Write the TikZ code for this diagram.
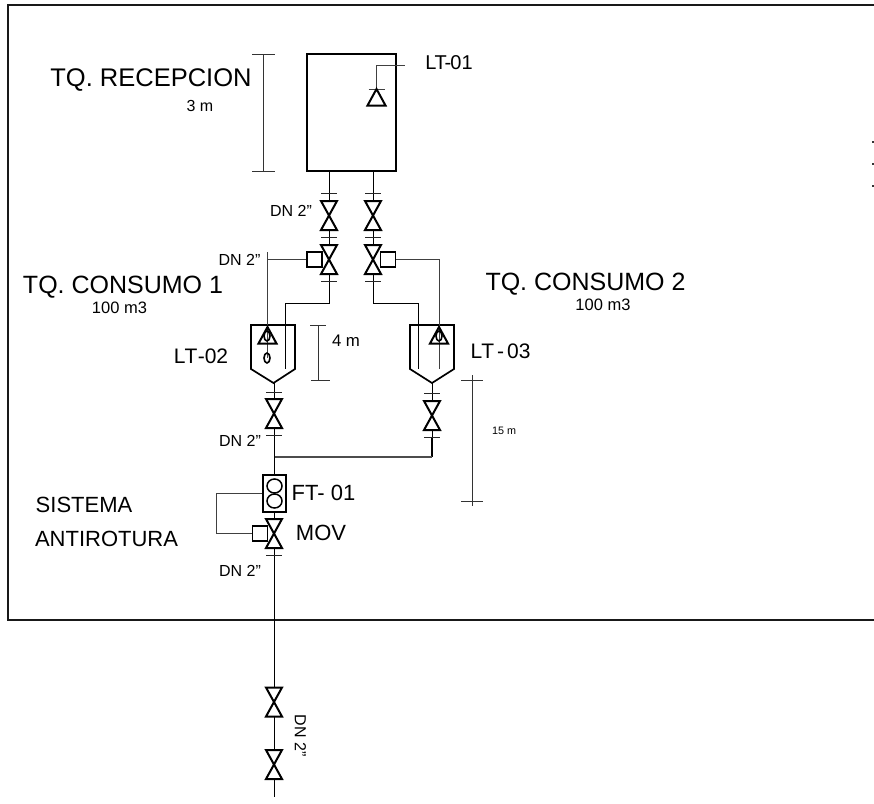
\documentclass[tikz,border=0pt]{standalone}
\usepackage{fontspec}
\setmainfont{Liberation Sans}
\tikzset{
  pipe/.style={line width=0.9pt,black},
  signal/.style={line width=1pt,black!75},
  dim/.style={line width=1pt,black!80},
  sym/.style={line width=2pt,black,line join=miter},
  txt/.style={inner sep=0pt,text=black},
  box/.style={draw,line width=1.8pt,fill=white,minimum width=15pt,minimum height=15pt,inner sep=0pt},
  valve/.pic={\draw[sym,fill=white] (-8,-14.5) -- (8,-14.5) -- (-8,14.5) -- (8,14.5) -- cycle;},
  flange/.pic={\draw[line width=1pt,black!85] (-8,0) -- (8,0);},
  tri/.pic={\draw[sym] (0,0) -- (9,16.5) -- (-9,16.5) -- cycle;}
}
\begin{document}
\begin{tikzpicture}[x=1pt,y=-1pt]
\useasboundingbox (0,0) rectangle (874,803);
% site frame
\coordinate (fTR) at (874,5); \coordinate (fTL) at (8,5);
\coordinate (fBL) at (8,620); \coordinate (fBR) at (874,620);
\draw[line width=1.8pt,black!90] (fTR) -- (fTL) -- (fBL) -- (fBR);
% right edge clipped marks
\foreach \yy in {142,164,186} \fill[black!80] (872,\yy-1) rectangle (874,\yy+1);
% pipe coordinates
\coordinate (pL0) at (329.5,171); \coordinate (pL1) at (329.5,303.5); \coordinate (pL2) at (285.5,303.5); \coordinate (pL3) at (285.5,369);
\coordinate (pR0) at (373.5,171); \coordinate (pR1) at (373.5,303.5); \coordinate (pR2) at (418.5,303.5); \coordinate (pR3) at (418.5,369);
\coordinate (aL) at (274.5,383); \coordinate (aR) at (432,383);
\coordinate (jL) at (274.5,457); \coordinate (jR) at (432,457);
\coordinate (endP) at (274.5,779); \coordinate (endQ) at (274.5,797);
\draw[pipe] (pL0) -- (pL1) -- (pL2) -- (pL3);
\draw[pipe] (pR0) -- (pR1) -- (pR2) -- (pR3);
\draw[pipe] (aL) -- (endP);
\draw[pipe] (endP) -- (endQ);
\draw[pipe] (aR) -- (432,437);
\draw[line width=1.8pt] (432,437) -- (jR);
\draw[line width=1.5pt,black!70] (jL) -- (jR);
% reception tank
\node[draw,line width=2pt,minimum width=89pt,minimum height=117pt,inner sep=0pt] (tk0) at (351.5,112.5) {};
\coordinate (lt1a) at (376.5,89); \coordinate (lt1b) at (376.5,65); \coordinate (lt1c) at (405,65);
\draw[signal] (lt1a) -- (lt1b) -- (lt1c);
\draw[signal] (368.5,89) -- (384.5,89);
\pic at (376.5,89) {tri};
% consumption tanks
\draw[sym,line width=1.7pt] (251,325) -- (295,325) -- (295,369) -- (273.5,383) -- (251,369) -- cycle;
\draw[sym,line width=1.7pt] (410,325) -- (454,325) -- (454,369) -- (432,383) -- (410,369) -- cycle;
% valves and flanges
\foreach \xx/\yy in {329/215.5,329/259.5,373/215.5,373/259.5,274/413.5,432/415.5,274/533.5,274/702,274/764.5}
  \pic at (\xx,\yy) {valve};
\foreach \xx/\yy in {329/193,329/237,329/281,373/193,373/237,373/281,274/392,274/435,432/393,432/437,274/555}
  \pic at (\xx,\yy) {flange};
% actuators
\node[box] (actL) at (314.5,259.5) {};
\node[box] (actR) at (388,259.5) {};
\node[box] (actM) at (260,533.5) {};
% level signals
\coordinate (sL0) at (267,259.5); \coordinate (sL1) at (267,252); \coordinate (sL2) at (267,358);
\coordinate (sR0) at (439,259.5); \coordinate (sR1) at (439,369);
\draw[signal] (actL) -- (sL0);
\draw[signal] (sL1) -- (sL2);
\draw[signal] (actR) -- (sR0) -- (sR1);
\pic at (267.5,327) {tri};
\pic at (439,327) {tri};
\draw[line width=1.6pt] (267,336) ellipse (3 and 5);
\draw[line width=1.6pt] (267,358) ellipse (3 and 5);
\draw[line width=1.6pt] (439,336) ellipse (3 and 5);
% flow transmitter
\node[draw,line width=1.8pt,fill=white,minimum width=23pt,minimum height=37pt,inner sep=0pt] (ft) at (274.5,493.5) {};
\draw[line width=1.5pt] (274.5,486) ellipse (7.5 and 7);
\draw[line width=1.5pt] (274.5,501) ellipse (7.5 and 7);
\coordinate (s1) at (216,493.5); \coordinate (s2) at (216,533.5);
\draw[signal] (ft.west) -- (s1) -- (s2) -- (actM.west);
% dimensions
\coordinate (d1a) at (263,54); \coordinate (d1b) at (263,171);
\draw[dim] (d1a) -- (d1b); \draw[dim] (252,54) -- (275,54); \draw[dim] (252,171) -- (275,171);
\coordinate (d2a) at (318,325); \coordinate (d2b) at (318,380);
\draw[dim] (d2a) -- (d2b); \draw[dim] (310,325) -- (326,325); \draw[dim] (311,380) -- (330,380);
\coordinate (d3a) at (472,375); \coordinate (d3b) at (472,506);
\draw[dim] (d3a) -- (d3b); \draw[dim] (461,380) -- (483,380); \draw[dim] (461,501) -- (483,501);
% texts
\node[txt,font=\fontsize{25.5}{26}\selectfont] (t1) at (151,80) {TQ. RECEPCION};
\node[txt,font=\fontsize{16}{18}\selectfont] (t2) at (200,106) {3 m};
\node[txt,font=\fontsize{20}{22}\selectfont] (t3) at (449,62.5) {L\kern-2pt T\kern-2pt-\kern-1pt 01};
\node[txt,font=\fontsize{16}{18}\selectfont] (t4) at (291,211) {DN 2"};
\node[txt,font=\fontsize{16}{18}\selectfont] (t5) at (239.5,260) {DN 2"};
\node[txt,font=\fontsize{16}{18}\selectfont] (t6) at (240,441) {DN 2"};
\node[txt,font=\fontsize{16}{18}\selectfont] (t7) at (240,571) {DN 2"};
\node[txt,font=\fontsize{16}{18}\selectfont,rotate=-90] (t8) at (300.5,735.5) {DN 2"};
\node[txt,font=\fontsize{25}{26}\selectfont] (t9) at (123,287.5) {TQ. CONSUMO 1};
\node[txt,font=\fontsize{16.5}{18}\selectfont] (t10) at (119.5,307.5) {100 m3};
\node[txt,font=\fontsize{25}{26}\selectfont] (t11) at (585.5,284.5) {TQ. CONSUMO 2};
\node[txt,font=\fontsize{16.5}{18}\selectfont] (t12) at (603,304.5) {100 m3};
\node[txt,font=\fontsize{21}{22}\selectfont] (t13) at (201,356.5) {\spaceskip=0.5pt L\kern-1pt T -02};
\node[txt,font=\fontsize{21}{22}\selectfont] (t14) at (500.5,351) {\spaceskip=3pt L\kern-1pt T - 03};
\node[txt,font=\fontsize{16.8}{18}\selectfont] (t15) at (346,341) {4 m};
\node[txt,font=\fontsize{10.8}{12}\selectfont] (t16) at (504,431) {15 m};
\node[txt,font=\fontsize{22}{24}\selectfont] (t17) at (84,505) {SISTEMA};
\node[txt,font=\fontsize{22}{24}\selectfont] (t18) at (106.5,539) {ANTIROTURA};
\node[txt,font=\fontsize{22}{24}\selectfont] (t19) at (323.5,493) {FT- 01};
\node[txt,font=\fontsize{22}{24}\selectfont] (t20) at (321,533) {MOV};
\end{tikzpicture}
\end{document}
